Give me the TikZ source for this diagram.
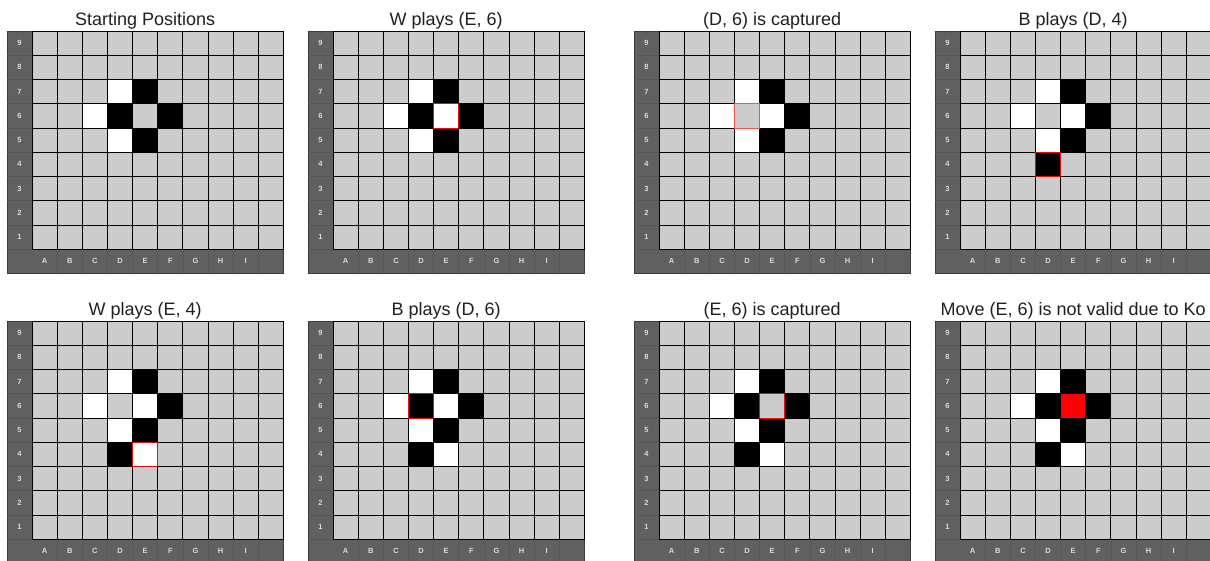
\documentclass[tikz,border=0pt]{standalone}
\usepackage{fontspec}
\setmainfont{Liberation Sans}
\definecolor{cellgrey}{HTML}{CCCCCC}
\definecolor{framegrey}{HTML}{606060}
\definecolor{sepgrey}{HTML}{575757}
\definecolor{labelgrey}{HTML}{DADADA}
\definecolor{edgegrey}{HTML}{3A3A3A}
\definecolor{movered}{HTML}{E01010}
\definecolor{lightred}{HTML}{F05555}
\definecolor{kored}{HTML}{FF0000}
\tikzset{
  boardframe/.style={fill=framegrey, draw=edgegrey, line width=0.8pt},
  framesep/.style={draw=sepgrey, line width=0.6pt},
  cellbox/.style={fill=cellgrey, draw=black, line width=1pt},
  whitestone/.style={fill=white, draw=black, line width=1pt},
  blackstone/.style={fill=black, draw=black, line width=1pt},
  lastmove/.style={draw=movered, line width=1pt},
  lastmovelight/.style={draw=lightred, line width=1pt},
  kocell/.style={fill=kored, draw=black, line width=1pt},
  coordlabel/.style={text=labelgrey, font=\fontsize{7.5}{8}\selectfont\bfseries, inner sep=0pt},
  paneltitle/.style={font=\fontsize{18}{20}\selectfont, anchor=base, inner sep=0pt, text=black!88},
}
\def\cw{25.13}
\def\ch{24.25}
% #1 name, #2 left, #3 top, #4 title, #5 stones col/row/style
\newcommand\goboard[5]{%
  \begin{scope}[shift={(#2,#3)}]
    \path[boardframe] (0,0) rectangle ({11*\cw},{10*\ch});
    \foreach \n in {1,...,9} \draw[framesep] (0,{\n*\ch}) -- ({\cw},{\n*\ch});
    \foreach \i in {2,...,10} \draw[framesep] ({\i*\cw},{9*\ch}) -- ({\i*\cw},{10*\ch});
    \foreach \c in {1,...,10} \foreach \r in {0,...,8}
      \path[cellbox] ({\c*\cw},{\r*\ch}) rectangle ++(\cw,\ch);
    \foreach \c/\n/\s in {#5}
      \path[\s] ({\c*\cw},{(9-\n)*\ch}) rectangle ++(\cw,\ch);
    \foreach \n in {1,...,9}
      \node[coordlabel] (#1-r\n) at ({0.5*\cw},{(9.5-\n)*\ch}) {\n};
    \foreach \l [count=\i] in {A,B,C,D,E,F,G,H,I}
      \node[coordlabel] (#1-c\i) at ({(\i+0.5)*\cw},{9.5*\ch}) {\l};
    \node[paneltitle] (#1-t) at ({5.5*\cw},-5.5) {#4};
  \end{scope}}
\begin{document}
\begin{tikzpicture}[x=1pt,y=-1pt]
\useasboundingbox (0,0) rectangle (1210,560);
\clip (0,0) rectangle (1210,560);
\fill[white] (0,0) rectangle (1210,560);
% top row
\goboard{p1}{7}{31}{Starting Positions}{4/7/whitestone,5/7/blackstone,3/6/whitestone,4/6/blackstone,6/6/blackstone,4/5/whitestone,5/5/blackstone}
\goboard{p2}{308}{31}{W plays (E, 6)}{4/7/whitestone,5/7/blackstone,3/6/whitestone,4/6/blackstone,5/6/whitestone,6/6/blackstone,4/5/whitestone,5/5/blackstone,5/6/lastmove}
\goboard{p3}{634}{31}{(D, 6) is captured}{4/7/whitestone,5/7/blackstone,3/6/whitestone,5/6/whitestone,6/6/blackstone,4/5/whitestone,5/5/blackstone,4/6/lastmovelight}
\goboard{p4}{935}{31}{B plays (D, 4)}{4/7/whitestone,5/7/blackstone,3/6/whitestone,5/6/whitestone,6/6/blackstone,4/5/whitestone,5/5/blackstone,4/4/blackstone,4/4/lastmove}
% bottom row
\goboard{p5}{7}{321}{W plays (E, 4)}{4/7/whitestone,5/7/blackstone,3/6/whitestone,5/6/whitestone,6/6/blackstone,4/5/whitestone,5/5/blackstone,4/4/blackstone,5/4/whitestone,5/4/lastmove}
\goboard{p6}{308}{321}{B plays (D, 6)}{4/7/whitestone,5/7/blackstone,3/6/whitestone,4/6/blackstone,5/6/whitestone,6/6/blackstone,4/5/whitestone,5/5/blackstone,4/4/blackstone,5/4/whitestone,4/6/lastmove}
\goboard{p7}{634}{321}{(E, 6) is captured}{4/7/whitestone,5/7/blackstone,3/6/whitestone,4/6/blackstone,6/6/blackstone,4/5/whitestone,5/5/blackstone,4/4/blackstone,5/4/whitestone,5/6/lastmove}
\goboard{p8}{935}{321}{Move (E, 6) is not valid due to Ko}{4/7/whitestone,5/7/blackstone,3/6/whitestone,4/6/blackstone,5/6/kocell,6/6/blackstone,4/5/whitestone,5/5/blackstone,4/4/blackstone,5/4/whitestone}
\end{tikzpicture}
\end{document}
